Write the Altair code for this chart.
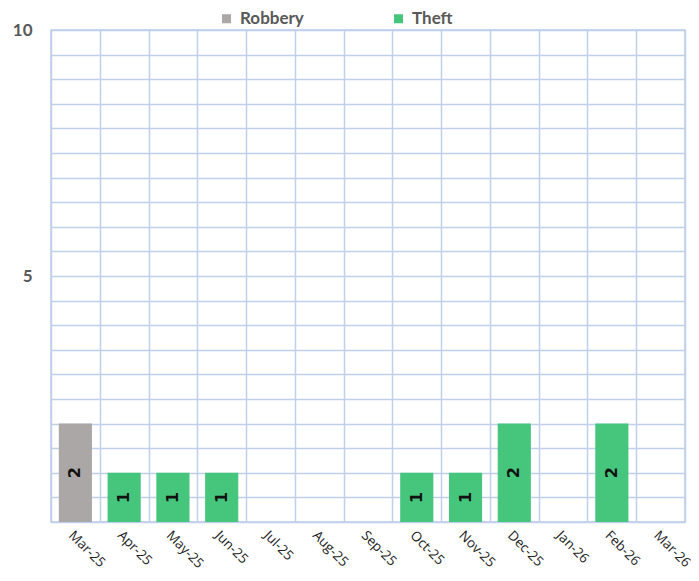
import altair as alt
import pandas as pd

months = ["Mar-25", "Apr-25", "May-25", "Jun-25", "Jul-25", "Aug-25", "Sep-25",
          "Oct-25", "Nov-25", "Dec-25", "Jan-26", "Feb-26", "Mar-26"]
robbery = [2, 0, 0, 0, 0, 0, 0, 0, 0, 0, 0, 0, 0]
theft = [0, 1, 1, 1, 0, 0, 0, 1, 1, 2, 0, 2, 0]
categories = ["Robbery", "Theft"]
colors = ["#aba7a7", "#45c67c"]
y_ticks = [i / 2 for i in range(21)]

rows = []
for m, r, t in zip(months, robbery, theft):
    rows.append({"month": m, "type": "Robbery", "count": r})
    rows.append({"month": m, "type": "Theft", "count": t})
df = pd.DataFrame(rows)

font = "Lato"
grid_color = "#bfcfec"

x = alt.X("month:N", sort=months, title=None,
          scale=alt.Scale(paddingInner=0, paddingOuter=0),
          axis=alt.Axis(labelAngle=45, labelAlign="left", labelBaseline="top",
                        labelFontSize=13.5, labelColor="#222222", labelPadding=6,
                        labelFont="Open Sans",
                        ticks=False, domain=False, grid=True, tickBand="extent",
                        gridColor=grid_color, gridWidth=1.5))

bars = alt.Chart(df).mark_bar(width=alt.RelativeBandSize(0.68)).encode(
    x=x,
    y=alt.Y("count:Q", stack="zero", title=None,
            scale=alt.Scale(domain=[0, 10], nice=False),
            axis=alt.Axis(values=y_ticks, tickCount=len(y_ticks),
                          labelExpr="datum.value == 5 || datum.value == 10 ? format(datum.value, 'd') : ''",
                          labelFontSize=17, labelFontWeight="bold", labelColor="#595959",
                          labelFont=font, labelPadding=19, ticks=False, domain=False,
                          gridColor=grid_color, gridWidth=1.5)),
    color=alt.Color("type:N", scale=alt.Scale(domain=categories, range=colors),
                    legend=alt.Legend(title=None, orient="none", direction="horizontal",
                                      legendX=167, legendY=-20,
                                      symbolType="square", symbolSize=81,
                                      labelFontSize=17, labelFontWeight="bold",
                                      labelColor="#595959", labelFont=font,
                                      columnPadding=86, labelOffset=5)),
)

labels = alt.Chart(df).transform_filter("datum.count > 0").transform_calculate(
    mid="datum.count / 2"
).mark_text(angle=270, fontSize=16, fontWeight="bold", color="#111111", font="DejaVu Sans").encode(
    x=alt.X("month:N", sort=months),
    y=alt.Y("mid:Q"),
    text=alt.Text("count:Q"),
)

chart = alt.layer(bars, labels).properties(
    width=634, height=492,
    autosize=alt.AutoSizeParams(type="none"),
    padding={"left": 43, "top": 22, "right": 6, "bottom": 51},
).configure_view(stroke=grid_color, strokeWidth=1.5)

chart.save("out.html", embed_options={"renderer": "svg", "actions": False})
